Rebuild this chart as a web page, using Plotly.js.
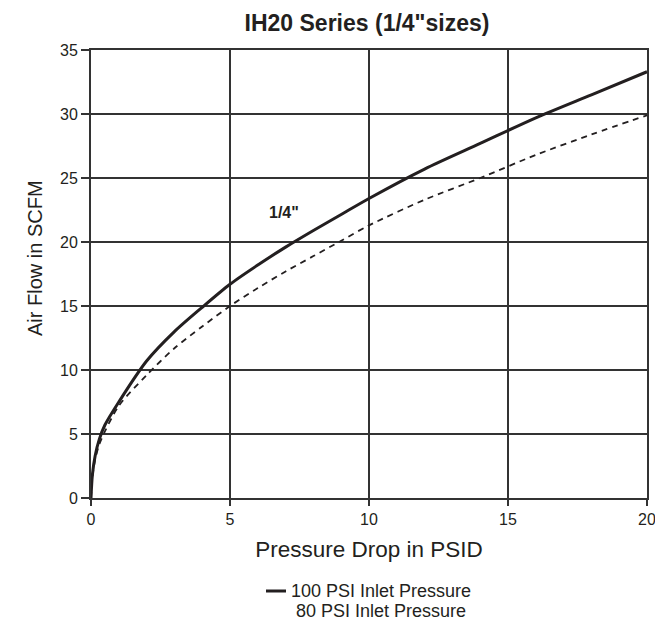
<!DOCTYPE html>
<html>
<head>
<meta charset="utf-8">
<script src="https://cdn.plot.ly/plotly-3.0.1.min.js"></script>
<style>html,body{margin:0;padding:0;background:#fff;}#chart{width:655px;height:624px;}</style>
</head>
<body>
<div id="chart"></div>
<script>
// Data
const x100 = [0, 0.05, 0.15, 0.3, 0.5, 1, 2, 3, 4, 5, 6, 7, 8, 9, 10, 12, 14, 16, 18, 20];
const y100 = [0, 1.8, 3.3, 4.6, 5.7, 7.5, 10.7, 13.0, 14.9, 16.7, 18.2, 19.6, 20.9, 22.15, 23.4, 25.7, 27.7, 29.7, 31.5, 33.3];
const x80 = [0, 0.05, 0.15, 0.3, 0.5, 1, 2, 3, 4, 5, 6, 7, 8, 9, 10, 12, 14, 16, 18, 20];
const y80 = [0, 1.6, 3.0, 4.2, 5.2, 7.2, 9.6, 11.7, 13.4, 15.0, 16.4, 17.7, 18.9, 20.1, 21.3, 23.3, 25.0, 26.8, 28.4, 29.9];
const seriesNames = ["100 PSI Inlet Pressure", "80 PSI Inlet Pressure"];
const xTicks = [0, 5, 10, 15, 20];
const yTicks = [0, 5, 10, 15, 20, 25, 30, 35];
const sizeLabel = "1/4\"";
const sizeLabelPos = [6.95, 22.3];

const ink = "#231f20";
const gridInk = "#333333";
const font = "Liberation Sans, Arial, Helvetica, sans-serif";

const traces = [
  {x: x100, y: y100, mode: "lines", name: seriesNames[0], line: {color: ink, width: 3, shape: "spline", smoothing: 0.8}, showlegend: false},
  {x: x80, y: y80, mode: "lines", name: seriesNames[1], line: {color: ink, width: 1.8, dash: "6px,5px", shape: "spline", smoothing: 0.8}, showlegend: false}
];

const W = 655, H = 624, L = 91, R = 8, T = 50, B = 126;
const plotW = W - L - R, plotH = H - T - B;
function px2paperX(px) { return (px - L) / plotW; }
function px2paperY(py) { return (H - B - py) / plotH; }

const layout = {
  width: W, height: H,
  margin: {l: L, r: R, t: T, b: B},
  paper_bgcolor: "#fff", plot_bgcolor: "#fff",
  font: {family: font, color: ink},
  title: {text: "<b>IH20 Series (1/4\"sizes)</b>", x: 367 / W, xanchor: "center", y: 1 - 23 / H, yanchor: "middle", font: {size: 23, color: ink}},
  xaxis: {
    range: [0, 20], tickvals: xTicks, ticktext: xTicks.map(String),
    showgrid: true, gridcolor: gridInk, gridwidth: 2,
    showline: true, linecolor: gridInk, linewidth: 2, mirror: true,
    ticks: "outside", ticklen: 6, tickcolor: gridInk, tickwidth: 2,
    tickfont: {size: 16, color: ink}, zeroline: false, ticklabeloverflow: "allow",
    title: {text: "Pressure Drop in PSID", font: {size: 22.5, color: ink}, standoff: 14}
  },
  yaxis: {
    range: [0, 35], tickvals: yTicks, ticktext: yTicks.map(String),
    showgrid: true, gridcolor: gridInk, gridwidth: 2,
    showline: true, linecolor: gridInk, linewidth: 2, mirror: true,
    ticks: "outside", ticklen: 8, tickcolor: gridInk, tickwidth: 2,
    tickfont: {size: 16, color: ink}, zeroline: false, ticklabeloverflow: "allow"
  },
  annotations: [
    {x: sizeLabelPos[0], y: sizeLabelPos[1], xref: "x", yref: "y", text: "<b>" + sizeLabel + "</b>", showarrow: false, font: {size: 16, color: ink}},
    {x: px2paperX(35), y: px2paperY(258), xref: "paper", yref: "paper", text: "Air Flow in SCFM", textangle: -90, showarrow: false, xanchor: "center", yanchor: "middle", font: {size: 20, color: ink}}
  ],
  shapes: []
};

// Legend drawn below the plot
const legendRows = [591, 611];
seriesNames.forEach((name, i) => {
  layout.annotations.push({x: px2paperX(381), y: px2paperY(legendRows[i]), xref: "paper", yref: "paper", text: name, showarrow: false, xanchor: "center", yanchor: "middle", font: {size: 18, color: ink}});
});
layout.shapes.push({type: "line", xref: "paper", yref: "paper", x0: px2paperX(266), x1: px2paperX(286), y0: px2paperY(591), y1: px2paperY(591), line: {color: ink, width: 3}});

Plotly.newPlot("chart", traces, layout, {displayModeBar: false});
</script>
</body>
</html>
